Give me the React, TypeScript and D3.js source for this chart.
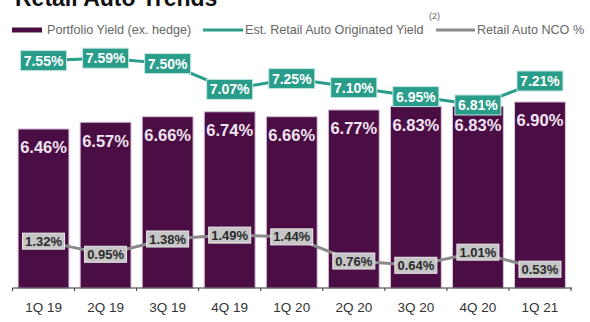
import React from "react";
import * as d3 from "d3";

const categories = ["1Q 19", "2Q 19", "3Q 19", "4Q 19", "1Q 20", "2Q 20", "3Q 20", "4Q 20", "1Q 21"];
const portfolioYield = [6.46, 6.57, 6.66, 6.74, 6.66, 6.77, 6.83, 6.83, 6.9];
const originatedYield = [7.55, 7.59, 7.5, 7.07, 7.25, 7.1, 6.95, 6.81, 7.21];
const ncoRate = [1.32, 0.95, 1.38, 1.49, 1.44, 0.76, 0.64, 1.01, 0.53];

const W = 590;
const H = 322;
const BASE = 288;

export default function App() {
  const x = d3.scaleBand<string>().domain(categories).range([12.5, 571]).paddingInner(0.18).paddingOuter(0.09);
  const yBar = d3.scaleLinear().domain([3.87, 8]).range([BASE, BASE - 4.13 * 61.4]);
  const yOrig = d3.scaleLinear().domain([6.5, 7.8]).range([123.6, 45.6]);
  const yNco = d3.scaleLinear().domain([0, 1]).range([BASE, BASE - 35.5]);
  const bw = x.bandwidth();
  const cx = (c: string) => (x(c) as number) + bw / 2;
  const fmt = (v: number) => v.toFixed(2) + "%";

  const origLine = d3.line<number>().x((_, i) => cx(categories[i])).y((d) => yOrig(d));
  const ncoLine = d3.line<number>().x((_, i) => cx(categories[i])).y((d) => yNco(d));

  const step = x.step();
  const tickXs = d3.range(categories.length + 1).map((i) => 12.5 + i * step);

  return (
    <svg width={W} height={H} style={{ position: "absolute", left: 0, top: 0, background: "#fff" }} fontFamily="'Liberation Sans', Arial, sans-serif">
      <rect x={0} y={0} width={W} height={H} fill="#fff" />
      <text x={15} y={6} fontSize={23} fontWeight="bold" fill="#111">Retail Auto Trends</text>
      {/* legend */}
      <rect x={12} y={27.5} width={30} height={5} fill="#4a0e44" />
      <text x={47} y={34} fontSize={12.6} fill="#666">Portfolio Yield (ex. hedge)</text>
      <line x1={203} x2={243} y1={30} y2={30} stroke="#2a9d8a" strokeWidth={3} />
      <text x={245} y={34} fontSize={12.6} fill="#666">Est. Retail Auto Originated Yield</text>
      <text x={429} y={19} fontSize={9} fill="#666">(2)</text>
      <line x1={436} x2={475} y1={30} y2={30} stroke="#8a8a8a" strokeWidth={3} />
      <text x={477} y={34} fontSize={12.6} fill="#666">Retail Auto NCO %</text>

      {/* bars */}
      {categories.map((c, i) => (
        <g key={c}>
          <rect x={x(c)} y={yBar(portfolioYield[i])} width={bw} height={BASE - yBar(portfolioYield[i])} fill="#4a0e44" stroke="#dcc2dc" strokeWidth={1} />
          <text x={cx(c)} y={yBar(portfolioYield[i]) + 24.5} textAnchor="middle" fontSize={16.5} fontWeight="bold" fill="#f2e4f2">{fmt(portfolioYield[i])}</text>
        </g>
      ))}

      {/* axis */}
      <line x1={12.5} x2={572} y1={BASE} y2={BASE} stroke="#333" strokeWidth={1} />
      {tickXs.map((t, i) => (
        <line key={i} x1={t} x2={t} y1={BASE} y2={BASE + 3} stroke="#333" strokeWidth={1} />
      ))}
      {categories.map((c) => (
        <text key={c} x={cx(c)} y={312} textAnchor="middle" fontSize={13.5} fill="#333">{c}</text>
      ))}

      {/* originated yield */}
      <path d={origLine(originatedYield) || ""} fill="none" stroke="#2a9d8a" strokeWidth={3} />
      {categories.map((c, i) => (
        <g key={c}>
          <rect x={cx(c) - 23} y={yOrig(originatedYield[i]) - 10} width={46} height={20} fill="#2a9d8a" stroke="#bfe6df" strokeWidth={1} />
          <text x={cx(c)} y={yOrig(originatedYield[i]) + 5} textAnchor="middle" fontSize={14} fontWeight="bold" fill="#fff">{fmt(originatedYield[i])}</text>
        </g>
      ))}

      {/* NCO */}
      <path d={ncoLine(ncoRate) || ""} fill="none" stroke="#8a8a8a" strokeWidth={3} />
      {categories.map((c, i) => (
        <g key={c}>
          <rect x={cx(c) - 21} y={yNco(ncoRate[i]) - 8} width={42} height={16} fill="#c6c6c6" stroke="#ececec" strokeWidth={1} />
          <text x={cx(c)} y={yNco(ncoRate[i]) + 4.5} textAnchor="middle" fontSize={13} fontWeight="bold" fill="#2a2a2a">{fmt(ncoRate[i])}</text>
        </g>
      ))}
    </svg>
  );
}
